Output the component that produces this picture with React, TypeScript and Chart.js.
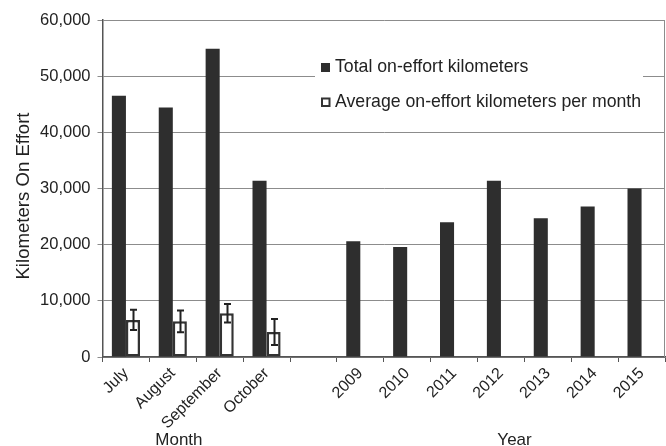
import React, { useEffect, useRef } from 'react';
import { Chart, registerables } from 'chart.js';

Chart.register(...registerables);

const categories = ['July', 'August', 'September', 'October', '', '2009', '2010', '2011', '2012', '2013', '2014', '2015'];
const totalKm = [46500, 44400, 54900, 31400, null, 20600, 19600, 24000, 31400, 24700, 26800, 30000];
const avgKm = [6600, 6350, 7800, 4450, null, null, null, null, null, null, null, null];
const avgErr = [1800, 1950, 1650, 2300, null, null, null, null, null, null, null, null];
const seriesLabels = ['Total on-effort kilometers', 'Average on-effort kilometers per month'];
const yAxisTitle = 'Kilometers On Effort';
const groupTitles = ['Month', 'Year'];
const groupTitlePos = [1.13, 8.29];

const FONT = '"Liberation Sans", Arial, sans-serif';
const DARK = '#2e2e2e';
const TEXT = '#222222';

const extrasPlugin = {
  id: 'extras',
  afterDatasetsDraw(chart: any) {
    const ctx = chart.ctx;
    const y = chart.scales.y;
    const meta = chart.getDatasetMeta(1);
    ctx.save();
    ctx.strokeStyle = '#222';
    ctx.lineWidth = 2;
    avgErr.forEach((e, i) => {
      const v = avgKm[i];
      if (e == null || v == null) return;
      const el = meta.data[i];
      const x = Math.round(el.x) + 0.5;
      const yt = y.getPixelForValue(v + e);
      const yb = y.getPixelForValue(v - e);
      ctx.beginPath();
      ctx.moveTo(x, yt);
      ctx.lineTo(x, yb);
      ctx.moveTo(x - 3.5, yt);
      ctx.lineTo(x + 3.5, yt);
      ctx.moveTo(x - 3.5, yb);
      ctx.lineTo(x + 3.5, yb);
      ctx.stroke();
    });
    ctx.restore();
  },
  afterDraw(chart: any) {
    const ctx = chart.ctx;
    const area = chart.chartArea;
    const xs = chart.scales.x;
    ctx.save();
    // right border of plot area
    ctx.strokeStyle = '#8c8c8c';
    ctx.lineWidth = 1;
    ctx.beginPath();
    ctx.moveTo(area.right - 0.5, area.top);
    ctx.lineTo(area.right - 0.5, area.bottom);
    ctx.stroke();

    // legend box
    const bx = 315, by = 48, bw = 328, bh = 74;
    ctx.fillStyle = '#ffffff';
    ctx.fillRect(bx, by, bw, bh);
    ctx.font = `17.7px ${FONT}`;
    ctx.textBaseline = 'middle';
    ctx.textAlign = 'left';
    // row 1
    ctx.fillStyle = DARK;
    ctx.fillRect(321, 63, 9, 9);
    ctx.fillStyle = TEXT;
    ctx.fillText(seriesLabels[0], 335, 67.5);
    // row 2
    ctx.fillStyle = '#fff';
    ctx.fillRect(321, 97.5, 9, 9);
    ctx.strokeStyle = '#333';
    ctx.lineWidth = 2;
    ctx.strokeRect(322, 98.5, 7.5, 7.5);
    ctx.fillStyle = TEXT;
    ctx.fillText(seriesLabels[1], 335, 102);

    // y axis title
    ctx.save();
    ctx.translate(24, 196);
    ctx.rotate(-Math.PI / 2);
    ctx.textAlign = 'center';
    ctx.font = `18.6px ${FONT}`;
    ctx.fillText(yAxisTitle, 0, 0);
    ctx.restore();

    // group titles
    ctx.textAlign = 'center';
    ctx.font = `17px ${FONT}`;
    groupTitles.forEach((t, i) => {
      ctx.fillText(t, xs.getPixelForValue(groupTitlePos[i]), 440);
    });
    ctx.restore();
  },
};

export default function App() {
  const ref = useRef<HTMLCanvasElement>(null);
  useEffect(() => {
    document.body.style.margin = '0';
    const chart = new Chart(ref.current as HTMLCanvasElement, {
      type: 'bar',
      data: {
        labels: categories,
        datasets: [
          {
            label: seriesLabels[0],
            data: totalKm,
            backgroundColor: DARK,
            borderWidth: 0,
            categoryPercentage: 0.6,
            barPercentage: 1.0,
          },
          {
            label: seriesLabels[1],
            data: avgKm,
            backgroundColor: '#ffffff',
            borderColor: '#333333',
            borderWidth: 2.5,
            borderSkipped: false,
            categoryPercentage: 0.6,
            barPercentage: 1.0,
          },
        ],
      } as any,
      options: {
        responsive: false,
        animation: false,
        devicePixelRatio: 1,
        layout: { padding: { top: 20, right: 1, left: 0, bottom: 0 } },
        plugins: { legend: { display: false }, tooltip: { enabled: false } },
        scales: {
          x: {
            grid: { offset: true, drawOnChartArea: false, tickLength: 5, color: '#555' },
            border: { color: '#555', width: 1.5 },
            ticks: {
              maxRotation: 45,
              minRotation: 45,
              autoSkip: false,
              padding: 2,
              color: TEXT,
              font: { family: FONT, size: 16 },
            },
            afterFit: (s: any) => {
              s.height = 89;
            },
          },
          y: {
            min: 0,
            max: 60000,
            ticks: {
              stepSize: 10000,
              padding: 7,
              color: TEXT,
              font: { family: FONT, size: 16.5 },
              callback: (v: any) => Number(v).toLocaleString('en-US'),
            },
            grid: { color: '#8c8c8c', tickLength: 5, lineWidth: 1 },
            border: { color: '#555', width: 1.5 },
            afterFit: (s: any) => {
              s.width = 102.5;
            },
          },
        },
      } as any,
      plugins: [extrasPlugin],
    });
    return () => chart.destroy();
  }, []);
  return <canvas ref={ref} width={666} height={446} style={{ display: 'block' }} />;
}
